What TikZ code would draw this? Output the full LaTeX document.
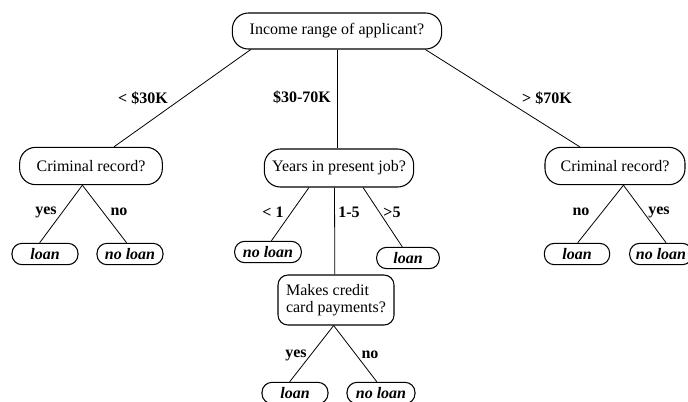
\documentclass[tikz,border=0pt]{standalone}
\usepackage{fontspec}
\setmainfont{Liberation Serif}
\usetikzlibrary{calc}
\tikzset{
  qbox/.style={draw,line width=0.8pt,rounded corners=12pt,align=center,inner sep=2pt,font=\fontsize{12}{12.8}\selectfont},
  leaf/.style={draw,line width=0.8pt,rounded corners=7.5pt,inner sep=1pt,minimum height=16pt,font=\fontsize{12}{13}\selectfont\bfseries\itshape},
  blab/.style={inner sep=0pt,font=\fontsize{12}{13}\selectfont\bfseries},
  ln/.style={line width=0.6pt}
}

\begin{document}
\begin{tikzpicture}[x=0.75pt,y=-0.75pt]
\useasboundingbox (0,0) rectangle (688,401);
% questions
\node[qbox,minimum width=157pt,minimum height=27pt] (root) at (337,31) {Income range of applicant?};
\node[qbox,minimum width=107pt,minimum height=28pt] (crimL) at (91,166) {Criminal record?};
\node[qbox,minimum width=112pt,minimum height=28.5pt] (years) at (339,168) {Years in present job?};
\node[qbox,minimum width=105pt,minimum height=28pt] (crimR) at (615,166) {Criminal record?};
\node[qbox,rounded corners=7.5pt,minimum width=87pt,minimum height=37.5pt,align=left] (credit) at (336,300) {Makes credit\\card payments?};
% leaves
\node[leaf,minimum width=49.5pt] (loanA) at (45,254) {loan};
\node[leaf,minimum width=49.5pt] (noloanA) at (130,254) {no loan};
\node[leaf,minimum width=50pt] (noloanB) at (268,252) {no loan};
\node[leaf,minimum width=47pt] (loanB) at (408,258) {loan};
\node[leaf,minimum width=49pt] (loanC) at (577,254) {loan};
\node[leaf,minimum width=47pt] (noloanC) at (661,254) {no loan};
\node[leaf,minimum width=49.5pt] (loanD) at (295,393) {loan};
\node[leaf,minimum width=51pt] (noloanD) at (381,393) {no loan};
% branches
\draw[ln] ($(root.south west)!.09!(root.south east)$) -- ($(crimL.north west)!.66!(crimL.north east)$);
\draw[ln] (root.south) -- (root.south |- years.north);
\draw[ln] ($(root.south west)!.92!(root.south east)$) -- ($(crimR.north west)!.25!(crimR.north east)$);
\draw[ln] ($(crimL.south west)!.44!(crimL.south east)$) -- ($(loanA.north west)!.42!(loanA.north east)$);
\draw[ln] ($(crimL.south west)!.44!(crimL.south east)$) -- ($(noloanA.north west)!.45!(noloanA.north east)$);
\draw[ln] ($(years.south west)!.30!(years.south east)$) -- ($(noloanB.north west)!.55!(noloanB.north east)$);
\draw[ln] ($(years.south west)!.47!(years.south east)$) -- ($(credit.north west)!.49!(credit.north east)$);
\draw[ln] ($(years.south west)!.66!(years.south east)$) -- ($(loanB.north west)!.41!(loanB.north east)$);
\draw[ln] ($(crimR.south west)!.56!(crimR.south east)$) -- ($(loanC.north west)!.51!(loanC.north east)$);
\draw[ln] ($(crimR.south west)!.56!(crimR.south east)$) -- ($(noloanC.north west)!.58!(noloanC.north east)$);
\draw[ln] ($(credit.south west)!.48!(credit.south east)$) -- ($(loanD.north west)!.42!(loanD.north east)$);
\draw[ln] ($(credit.south west)!.48!(credit.south east)$) -- ($(noloanD.north west)!.44!(noloanD.north east)$);
% branch labels
\node[blab] (lowK) at (143,98) {< \$30K};
\node[blab] (midK) at (302,97) {\$30-70K};
\node[blab] (highK) at (547,98) {> \$70K};
\node[blab] (yesA) at (46,212) {yes};
\node[blab] (noA) at (119,212) {no};
\node[blab] (ltone) at (273,212) {< 1};
\node[blab] (onefive) at (349,212) {1-5};
\node[blab] (gtfive) at (392,212) {>5};
\node[blab] (noC) at (581,212) {no};
\node[blab] (yesC) at (659,212) {yes};
\node[blab] (yesD) at (296,355) {yes};
\node[blab] (noD) at (370,355) {no};
\end{tikzpicture}
\end{document}
